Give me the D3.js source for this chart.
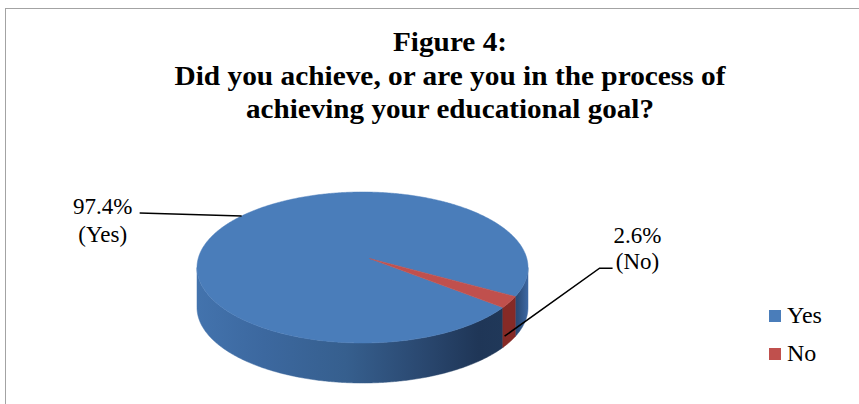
<!DOCTYPE html>
<html><head><meta charset="utf-8">
<script src="https://cdn.jsdelivr.net/npm/d3@7"></script>
<style>html,body{margin:0;padding:0;background:#fff;}svg{display:block;}</style>
</head><body>
<svg id="chart" width="859" height="404"></svg>
<script>
const categories = ["Yes", "No"];
const values = [97.4, 2.6];
const labelTexts = ["97.4%", "2.6%"];
const labelNames = ["(Yes)", "(No)"];
const titleLines = ["Figure 4:", "Did you achieve, or are you in the process of", "achieving your educational goal?"];

const topColors = ["#4a7dba", "#c0504d"];
const sideColors = ["url(#sideBlue)", "#862a26"];

const svg = d3.select("#chart");
const W = 859, H = 404;

// chart border
svg.append("rect").attr("x", 5.5).attr("y", 8.5).attr("width", W + 10).attr("height", H + 10)
  .attr("fill", "#fff").attr("stroke", "#a3a3a3").attr("stroke-width", 1);

// title
const title = svg.append("g").attr("font-family", "'Liberation Serif','Times New Roman',serif")
  .attr("font-weight", "bold").attr("font-size", 27).attr("fill", "#000").attr("text-anchor", "middle");
const titleY = [51, 85, 118];
const titleW = [114, 551, 408];
titleLines.forEach((t, i) => title.append("text").attr("x", 450).attr("y", titleY[i])
  .attr("textLength", titleW[i]).attr("lengthAdjust", "spacingAndGlyphs").text(t));

// pie geometry (3D ellipse)
const cx = 362.5, cy = 267.5, rx = 165.5, ry = 75.5, depth = 40;
const startDeg = 122;
const pie = d3.pie().sort(null).value(d => d)
  .startAngle(startDeg * Math.PI / 180).endAngle(startDeg * Math.PI / 180 + 2 * Math.PI);
const arcs = pie(values);

const xs = d3.scaleLinear().domain([-1, 1]).range([cx - rx, cx + rx]);
const ys = d3.scaleLinear().domain([-1, 1]).range([cy - ry, cy + ry]);
const pt = (a, dy = 0) => [xs(Math.sin(a)), ys(-Math.cos(a)) + dy];
const samples = (a0, a1, dy = 0) => {
  const n = Math.max(2, Math.ceil(Math.abs(a1 - a0) / 0.01));
  return d3.range(n + 1).map(i => pt(a0 + (a1 - a0) * i / n, dy));
};
const line = d3.line();

// gradient for side
const defs = svg.append("defs");
const g = defs.append("linearGradient").attr("id", "sideBlue").attr("gradientUnits", "userSpaceOnUse")
  .attr("x1", cx - rx).attr("x2", cx + rx).attr("y1", 0).attr("y2", 0);
[[0, "#4373ad"], [0.2, "#3c689f"], [0.45, "#365f8e"], [0.68, "#2a4870"], [0.85, "#1f3657"], [0.93, "#203859"], [0.97, "#2c4d7a"], [1, "#3d68a3"]]
  .forEach(([o, c]) => g.append("stop").attr("offset", o).attr("stop-color", c));

// side walls (front half: angles between PI/2 and 3PI/2)
const lo = Math.PI / 2, hi = 3 * Math.PI / 2;
const sides = svg.append("g");
arcs.forEach((d, i) => {
  for (let k = -1; k <= 1; k++) {
    const a0 = Math.max(d.startAngle + k * 2 * Math.PI, lo);
    const a1 = Math.min(d.endAngle + k * 2 * Math.PI, hi);
    if (a1 > a0) {
      const pts = samples(a0, a1).concat(samples(a1, a0, depth));
      sides.append("path").attr("d", line(pts) + "Z").attr("fill", sideColors[i])
        .attr("stroke", sideColors[i]).attr("stroke-width", 0.5);
    }
  }
});

// top face
const tops = svg.append("g");
arcs.forEach((d, i) => {
  const pts = [[cx + 7, cy - 9]].concat(samples(d.startAngle, d.endAngle));
  tops.append("path").attr("d", line(pts) + "Z").attr("fill", topColors[i])
    .attr("stroke", topColors[i]).attr("stroke-width", 0.5);
});

// leader lines and labels
const lab = svg.append("g").attr("font-family", "'Liberation Serif','Times New Roman',serif")
  .attr("font-size", 23).attr("fill", "#000").attr("text-anchor", "middle");
// Yes
{
  const d = arcs[0];
  const a = d.startAngle + 0.545 * (d.endAngle - d.startAngle);
  const p = pt(a);
  const q = [p[0] - 102, p[1] - 3];
  svg.append("path").attr("d", line([p, q])).attr("stroke", "#000").attr("stroke-width", 1.5).attr("fill", "none");
  lab.append("text").attr("x", q[0] - 37).attr("y", q[1] + 1).text(labelTexts[0]);
  lab.append("text").attr("x", q[0] - 37).attr("y", q[1] + 29).text(labelNames[0]);
}
// No
{
  const d = arcs[1];
  const p = pt(d.endAngle - 0.02, depth * 0.75);
  const q = [p[0] + 95, p[1] - 68];
  const r = [q[0] + 13, q[1]];
  svg.append("path").attr("d", line([p, q, r])).attr("stroke", "#000").attr("stroke-width", 1.5).attr("fill", "none");
  lab.append("text").attr("x", r[0] + 25).attr("y", r[1] - 25).text(labelTexts[1]);
  lab.append("text").attr("x", r[0] + 25).attr("y", r[1] + 1).text(labelNames[1]);
}

// legend
const leg = svg.append("g").attr("font-family", "'Liberation Serif','Times New Roman',serif").attr("font-size", 24);
categories.forEach((c, i) => {
  const y = 310 + i * 38;
  leg.append("rect").attr("x", 769).attr("y", y).attr("width", 12).attr("height", 12).attr("fill", topColors[i]);
  leg.append("text").attr("x", 787).attr("y", y + 13).text(c);
});
</script>
</body></html>
